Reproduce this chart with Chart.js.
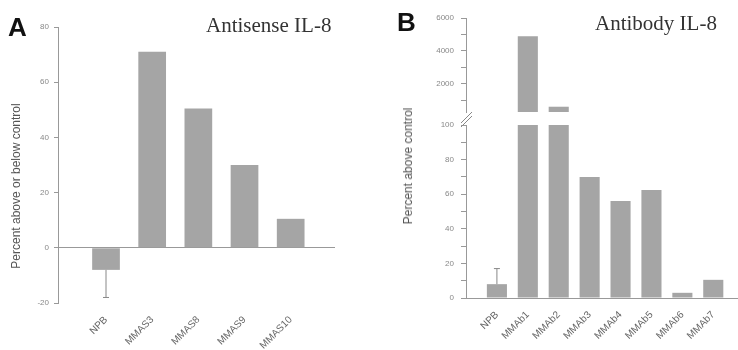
<!DOCTYPE html>
<html>
<head>
<meta charset="utf-8">
<script src="https://cdn.jsdelivr.net/npm/chart.js@4/dist/chart.umd.min.js"></script>
<style>
body { margin: 0; background: #fff; width: 738px; height: 350px; overflow: hidden; position: relative; font-family: "Liberation Sans", Arial, sans-serif; }
canvas { position: absolute; top: 0; }
.lbl { position: absolute; white-space: nowrap; }
.panel { font-weight: bold; font-size: 26px; color: #111; }
.ttl { font-family: "Liberation Serif", "Times New Roman", serif; font-size: 21px; color: #333; }
.ytitle { font-size: 12px; color: #555; transform: translate(-50%, -50%) rotate(-90deg); }
</style>
</head>
<body>
<canvas id="chartA" width="370" height="350" style="left:0"></canvas>
<canvas id="chartBTop" width="358" height="350" style="left:380px"></canvas>
<canvas id="chartB" width="358" height="350" style="left:380px"></canvas>

<div class="lbl panel" style="left:8px;top:12px">A</div>
<div class="lbl panel" style="left:397px;top:7px">B</div>
<div class="lbl ttl" style="left:206px;top:13px">Antisense IL-8</div>
<div class="lbl ttl" style="left:595px;top:11px">Antibody IL-8</div>
<div class="lbl ytitle" style="left:16px;top:186px">Percent above or below control</div>
<div class="lbl ytitle" style="left:408px;top:166px">Percent above control</div>

<script>
// panel A - antisense
const catsA = ['NPB', 'MMAS3', 'MMAS8', 'MMAS9', 'MMAS10'];
const valsA = [-8, 71, 50.5, 30, 10.5];
const errA = [10, 0, 0, 0, 0];
const ticksA = [-20, 0, 20, 40, 60, 80];

// panel B - antibody (broken axis)
const catsB = ['NPB', 'MMAb1', 'MMAb2', 'MMAb3', 'MMAb4', 'MMAb5', 'MMAb6', 'MMAb7'];
const valsB = [8, 4900, 620, 70, 56, 62.5, 3, 10.5];
const errB = [9, 0, 0, 0, 0, 0, 0, 0];
const ticksBTop = [1000, 2000, 3000, 4000, 5000, 6000];
const labelsBTop = [2000, 4000, 6000];
const ticksBLow = [0, 10, 20, 30, 40, 50, 60, 70, 80, 90, 100];
const labelsBLow = [0, 20, 40, 60, 80, 100];

const barColor = '#a5a5a5';
const axisColor = '#999';
const tickFont = { family: 'Liberation Sans', size: 8 };

const errorBars = {
    id: 'errorBars',
    afterDatasetsDraw(chart, args, opts) {
        if (!opts.values) return;
        const ctx = chart.ctx;
        const y = chart.scales.y;
        const pts = chart.data.datasets[0].data;
        ctx.save();
        ctx.strokeStyle = '#888';
        ctx.lineWidth = 1;
        chart.getDatasetMeta(0).data.forEach((bar, i) => {
            const e = opts.values[i];
            if (!e) return;
            const v = pts[i].y;
            const end = y.getPixelForValue(v + Math.sign(v) * e);
            ctx.beginPath();
            ctx.moveTo(bar.x, bar.y);
            ctx.lineTo(bar.x, end);
            ctx.moveTo(bar.x - 3, end);
            ctx.lineTo(bar.x + 3, end);
            ctx.stroke();
        });
        ctx.restore();
    }
};

const breakMark = {
    id: 'breakMark',
    afterDraw(chart) {
        const ctx = chart.ctx;
        const a = chart.chartArea;
        ctx.save();
        ctx.strokeStyle = '#888';
        ctx.lineWidth = 1;
        [0, 4].forEach(d => {
            ctx.beginPath();
            ctx.moveTo(a.left - 5, a.top + 2 - d);
            ctx.lineTo(a.left + 6, a.top - 9 - d);
            ctx.stroke();
        });
        ctx.restore();
    }
};

function xScale(cats, min, max, show, height) {
    return {
        type: 'linear',
        display: show,
        offset: false,
        min: min,
        max: max,
        grid: { display: false },
        border: { display: false },
        afterBuildTicks: s => { s.ticks = cats.map((c, i) => ({ value: i })); },
        afterFit: s => { if (height) s.height = height; },
        ticks: {
            autoSkip: false,
            minRotation: 45,
            maxRotation: 45,
            padding: 3,
            color: '#666',
            font: { family: 'Liberation Sans', size: 10 },
            callback: (v, i) => cats[i]
        }
    };
}

function yScale(min, max, width, tickList, labelList) {
    return {
        min: min,
        max: max,
        afterFit: s => { s.width = width; },
        afterBuildTicks: s => { s.ticks = tickList.map(v => ({ value: v })); },
        border: { display: true, color: axisColor },
        grid: { drawOnChartArea: false, tickColor: axisColor, tickLength: 5 },
        ticks: {
            autoSkip: false,
            color: '#888',
            font: tickFont,
            padding: 7,
            callback: v => labelList.includes(v) ? v : ''
        }
    };
}

function barSet(vals, pct) {
    return {
        data: vals.map((v, i) => ({ x: i, y: v })),
        backgroundColor: barColor,
        barPercentage: pct,
        categoryPercentage: 1,
        clip: 0
    };
}

// chart A
const yA = yScale(-20, 80, 58, ticksA, ticksA);
yA.grid = {
    color: c => c.tick && c.tick.value === 0 ? axisColor : 'rgba(0,0,0,0)',
    tickColor: axisColor,
    tickLength: 4
};
yA.ticks.padding = 5;
new Chart(document.getElementById('chartA'), {
    type: 'bar',
    data: { datasets: [barSet(valsA, 0.6)] },
    options: {
        responsive: false,
        animation: false,
        layout: { padding: { top: 27, right: 35, left: 0, bottom: 0 } },
        plugins: { legend: { display: false }, tooltip: { enabled: false }, errorBars: { values: errA } },
        scales: { x: xScale(catsA, -1.04, 4.96, true, 47), y: yA }
    },
    plugins: [errorBars]
});

// chart B, upper part of the broken axis
new Chart(document.getElementById('chartBTop'), {
    type: 'bar',
    data: { datasets: [barSet(valsB, 0.65)] },
    options: {
        responsive: false,
        animation: false,
        layout: { padding: { top: 18, right: 0, left: 0, bottom: 238 } },
        plugins: { legend: { display: false }, tooltip: { enabled: false } },
        scales: {
            x: xScale(catsB, -1, 7.8, false, 0),
            y: yScale(300, 6000, 86, ticksBTop, labelsBTop)
        }
    }
});

// chart B, lower part
const xB = xScale(catsB, -1, 7.8, true, 52);
xB.border = { display: true, color: axisColor };
new Chart(document.getElementById('chartB'), {
    type: 'bar',
    data: { datasets: [barSet(valsB, 0.65)] },
    options: {
        responsive: false,
        animation: false,
        layout: { padding: { top: 125, right: 0, left: 0, bottom: 0 } },
        plugins: { legend: { display: false }, tooltip: { enabled: false }, errorBars: { values: errB } },
        scales: { x: xB, y: yScale(0, 100, 86, ticksBLow, labelsBLow) }
    },
    plugins: [errorBars, breakMark]
});
</script>
</body>
</html>
